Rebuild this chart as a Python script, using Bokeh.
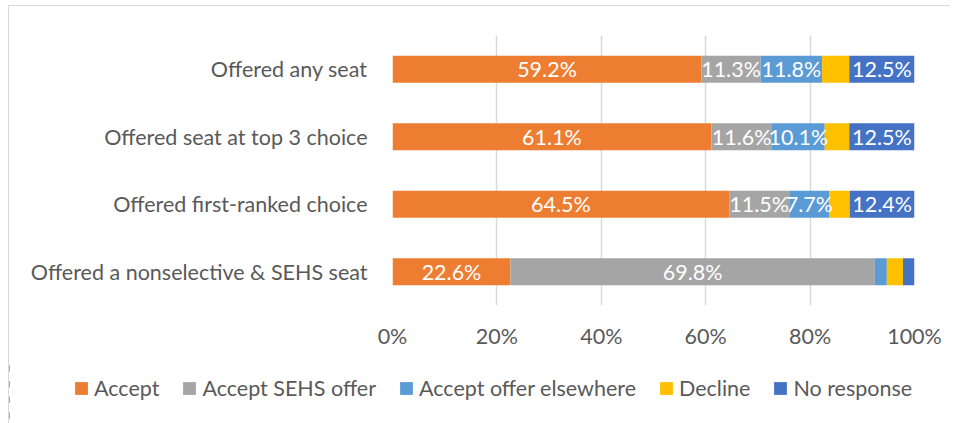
from bokeh.plotting import figure
from bokeh.layouts import column
from bokeh.models import ColumnDataSource, FactorRange, FixedTicker, PrintfTickFormatter, Legend, LegendItem
from bokeh.core.properties import value
from bokeh.embed import file_html
from bokeh.resources import INLINE

categories = ["Offered any seat", "Offered seat at top 3 choice", "Offered first-ranked choice",
              "Offered a nonselective & SEHS seat"]
series = ["Accept", "Accept SEHS offer", "Accept offer elsewhere", "Decline", "No response"]
accept = [59.2, 61.1, 64.5, 22.6]
accept_sehs = [11.3, 11.6, 11.5, 69.8]
accept_elsewhere = [11.8, 10.1, 7.7, 2.3]
decline = [5.2, 4.7, 3.9, 3.1]
no_response = [12.5, 12.5, 12.4, 2.2]
colors = ["#ED7D31", "#A5A5A5", "#5B9BD5", "#FFC000", "#4472C4"]
x_ticks = [0, 20, 40, 60, 80, 100]

FONT = "Lato"
TXT = "#595959"
FS = "21.5px"

data = {"cat": categories}
for name, vals in zip(series, [accept, accept_sehs, accept_elsewhere, decline, no_response]):
    data[name] = vals
src = ColumnDataSource(data)

p = figure(width=941, height=354, output_backend="svg", toolbar_location=None,
           y_range=FactorRange(*reversed(categories)), x_range=(0, 100),
           min_border_left=383, min_border_right=36, min_border_top=29, min_border_bottom=55)
p.outline_line_color = None
p.frame_align = False

renderers = p.hbar_stack(series, y="cat", height=0.4, color=colors, source=src, line_color=None)

# labels
lx, ly, lt = [], [], []
all_vals = [accept, accept_sehs, accept_elsewhere, decline, no_response]
for i, cat in enumerate(categories):
    left = 0.0
    for s, vals in enumerate(all_vals):
        v = vals[i]
        if series[s] != "Decline" and v >= 5:
            lx.append(left + v / 2)
            ly.append(cat)
            lt.append(f"{v:.1f}%")
        left += v
p.text(x=lx, y=ly, text=lt, text_align="center", text_baseline="middle",
       text_color="white", text_font=value(FONT), text_font_size=FS)

p.xaxis.ticker = FixedTicker(ticks=x_ticks)
p.xaxis.formatter = PrintfTickFormatter(format="%d%%")
p.xaxis.axis_line_color = None
p.xaxis.major_tick_line_color = None
p.xaxis.minor_tick_line_color = None
p.xaxis.major_label_text_font = FONT
p.xaxis.major_label_text_font_size = FS
p.xaxis.major_label_text_color = TXT
p.xaxis.major_label_standoff = 11

p.yaxis.axis_line_color = None
p.yaxis.major_tick_line_color = None
p.yaxis.major_label_text_font = FONT
p.yaxis.major_label_text_font_size = FS
p.yaxis.major_label_text_color = TXT
p.yaxis.major_label_standoff = 19

p.ygrid.grid_line_color = None
p.xgrid.grid_line_color = "#d9d9d9"
p.xgrid.grid_line_width = 1.5
p.xgrid.ticker = FixedTicker(ticks=x_ticks)

# legend in its own strip below the chart (its bars lie outside the visible x range)
lg = figure(width=941, height=63, output_backend="svg", toolbar_location=None,
            x_range=(1000, 1001), y_range=FactorRange(*categories),
            x_axis_location=None, y_axis_location=None, min_border=0)
lg.outline_line_color = None
lg.grid.grid_line_color = None
lg.frame_align = False
leg_rends = lg.hbar_stack(series, y="cat", height=0.4, color=colors, source=src, line_color=None)
legend = Legend(items=[LegendItem(label=s, renderers=[r]) for s, r in zip(series, leg_rends)],
                orientation="horizontal", location=(64, 22),
                label_text_font=FONT, label_text_font_size=FS, label_text_color=TXT,
                glyph_width=16, glyph_height=16, label_standoff=5, spacing=22,
                border_line_color=None, background_fill_alpha=0, margin=0, padding=0)
lg.add_layout(legend, "center")

layout = column(p, lg, spacing=0, margin=(5, 0, 0, 8),
                styles={"border-top": "1px solid #d9d9d9", "border-left": "1px solid #d9d9d9"})

open("out.html", "w").write(file_html(layout, INLINE))
